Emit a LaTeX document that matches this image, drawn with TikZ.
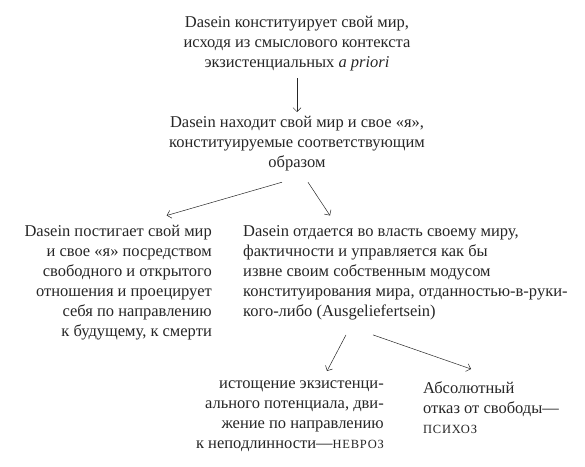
\documentclass[tikz,border=0pt]{standalone}
\usepackage{fontspec}
\setmainfont{Liberation Serif}
\usetikzlibrary{arrows.meta}
\newcommand{\capsword}[1]{{\fontsize{12.5}{20}\selectfont\addfontfeature{LetterSpace=6}#1}}
\begin{document}
\begin{tikzpicture}[x=1pt,y=-1pt,
  txt/.style={inner sep=0pt, text=black!85, font=\fontsize{16.5}{20}\selectfont},
  arr/.style={-{Straight Barb[length=4pt,width=8pt]}, line width=0.5pt, black!85}]
\useasboundingbox (0,0) rectangle (585,466);
\node[txt, align=center, anchor=north] (top) at (297,16) {Dasein конституирует свой мир,\\исходя из смыслового контекста\\экзистенциальных \textit{a priori}};
\node[txt, align=center, anchor=north] (mid) at (297,116) {Dasein находит свой мир и свое «я»,\\конституируемые соответствующим\\образом};
\node[txt, align=right, anchor=north east] (lft) at (212,225) {Dasein постигает свой мир\\и свое «я» посредством\\свободного и открытого\\отношения и проецирует\\себя по направлению\\к будущему, к смерти};
\node[txt, align=left, anchor=north west] (rgt) at (243,225) {Dasein отдается во власть своему миру,\\фактичности и управляется как бы\\извне своим собственным модусом\\конституирования мира, отданностью-в-руки-\\кого-либо (Ausgeliefertsein)};
\node[txt, align=right, anchor=north east] (bl) at (384,381) {истощение экзистенци-\\ального потенциала, дви-\\жение по направлению\\к неподлинности—\capsword{НЕВРОЗ}};
\node[txt, align=left, anchor=north west] (br) at (423,381) {Абсолютный\\отказ от свободы—\\\capsword{ПСИХОЗ}};
\draw[arr] ([yshift=-7pt]top.south) -- ([yshift=4pt]mid.north);
\draw[arr] ([xshift=-15pt,yshift=-11pt]mid.south) -- ([xshift=48.5pt,yshift=9.5pt]lft.north);
\draw[arr] ([xshift=11pt,yshift=-11pt]mid.south) -- ([xshift=87pt,yshift=9.5pt]rgt.north west);
\draw[arr] ([xshift=103pt,yshift=-15pt]rgt.south west) -- ([xshift=-57pt,yshift=10pt]bl.north east);
\draw[arr] ([xshift=130pt,yshift=-15pt]rgt.south west) -- ([xshift=48pt,yshift=12pt]br.north west);
\end{tikzpicture}
\end{document}
